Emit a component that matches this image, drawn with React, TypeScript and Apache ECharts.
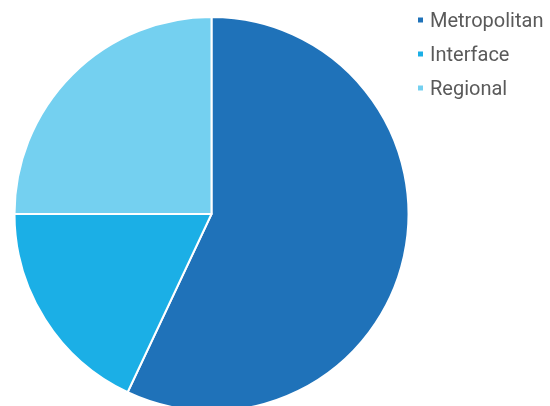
import React, { useEffect, useRef } from "react";
import * as echarts from "echarts";

const categories = ["Metropolitan", "Interface", "Regional"];
const values = [57, 18, 25];
const colors = ["#1f72b9", "#1bafe6", "#74d0f0"];

export default function App() {
  const ref = useRef<HTMLDivElement>(null);
  useEffect(() => {
    if (!ref.current) return;
    const chart = echarts.init(ref.current, undefined, { renderer: "svg" });
    chart.setOption({
      animation: false,
      color: colors,
      legend: {
        orient: "vertical",
        left: 416,
        top: 10,
        padding: 0,
        icon: "rect",
        itemWidth: 7,
        itemHeight: 7,
        itemGap: 14,
        data: categories,
        textStyle: { fontFamily: "Roboto", fontSize: 20, color: "#5a5a5a", padding: [0, 0, 0, 1] },
      },
      series: [
        {
          type: "pie",
          center: [211.5, 214],
          radius: 197,
          startAngle: 90,
          clockwise: true,
          label: { show: false },
          labelLine: { show: false },
          itemStyle: { borderColor: "#ffffff", borderWidth: 2 },
          emphasis: { disabled: true },
          data: categories.map((c, i) => ({ name: c, value: values[i] })),
        },
      ],
    });
    return () => chart.dispose();
  }, []);
  return (
    <div
      ref={ref}
      style={{ position: "fixed", left: 0, top: 0, width: 550, height: 406 }}
    />
  );
}
